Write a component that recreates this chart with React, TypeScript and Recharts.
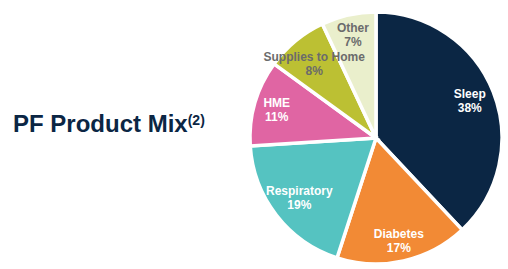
import React from "react";
import { PieChart, Pie, Cell } from "recharts";

// Product mix slices, clockwise from 12 o'clock
const segments = ["Sleep", "Diabetes", "Respiratory", "HME", "Supplies to Home", "Other"];
const shares = [38, 17, 19, 11, 8, 7];
const sliceColors = ["#0b2644", "#f28a35", "#55c3c1", "#e065a3", "#bcc033", "#eaefcc"];
const labelColors = ["#ffffff", "#ffffff", "#ffffff", "#ffffff", "#6b6b6b", "#6b6b6b"];
// how far out each label sits, as a share of the radius
const labelRadius = [0.8, 0.83, 0.77, 0.82, 0.77, 0.84];

const pieData = segments.map((name, i) => ({ name, value: shares[i] }));

const RADIAN = Math.PI / 180;

const renderLabel = (props: any) => {
    const { cx, cy, midAngle, outerRadius, index, name, value } = props;
    const r = outerRadius * labelRadius[index];
    const x = cx + r * Math.cos(-midAngle * RADIAN);
    const y = cy + r * Math.sin(-midAngle * RADIAN);
    return (
        <text
            x={x}
            y={y}
            fill={labelColors[index]}
            textAnchor="middle"
            fontFamily="'Liberation Sans', Arial, sans-serif"
            fontWeight="bold"
            fontSize={12}
        >
            <tspan x={x} dy={-2.5}>{name}</tspan>
            <tspan x={x} dy={14}>{value}%</tspan>
        </text>
    );
};

export default function App() {
    return (
        <div style={{ position: "absolute", left: 0, top: 0, width: 508, height: 269, background: "#fff" }}>
            <div
                style={{
                    position: "absolute",
                    left: 13,
                    top: 110,
                    fontFamily: "'Liberation Sans', Arial, sans-serif",
                    fontWeight: "bold",
                    fontSize: 24,
                    color: "#0b2644",
                    whiteSpace: "nowrap",
                    lineHeight: "28px",
                }}
            >
                PF Product Mix<sup style={{ fontSize: 14, verticalAlign: "top", position: "relative", top: -4 }}>(2)</sup>
            </div>
            <PieChart width={508} height={269} margin={{ top: 0, right: 0, bottom: 0, left: 0 }}>
                <Pie
                    data={pieData}
                    dataKey="value"
                    nameKey="name"
                    cx={376}
                    cy={138}
                    outerRadius={126}
                    startAngle={90}
                    endAngle={-270}
                    stroke="#ffffff"
                    strokeWidth={3.5}
                    label={renderLabel}
                    labelLine={false}
                    isAnimationActive={false}
                >
                    {pieData.map((d, i) => (
                        <Cell key={d.name} fill={sliceColors[i]} />
                    ))}
                </Pie>
            </PieChart>
        </div>
    );
}
